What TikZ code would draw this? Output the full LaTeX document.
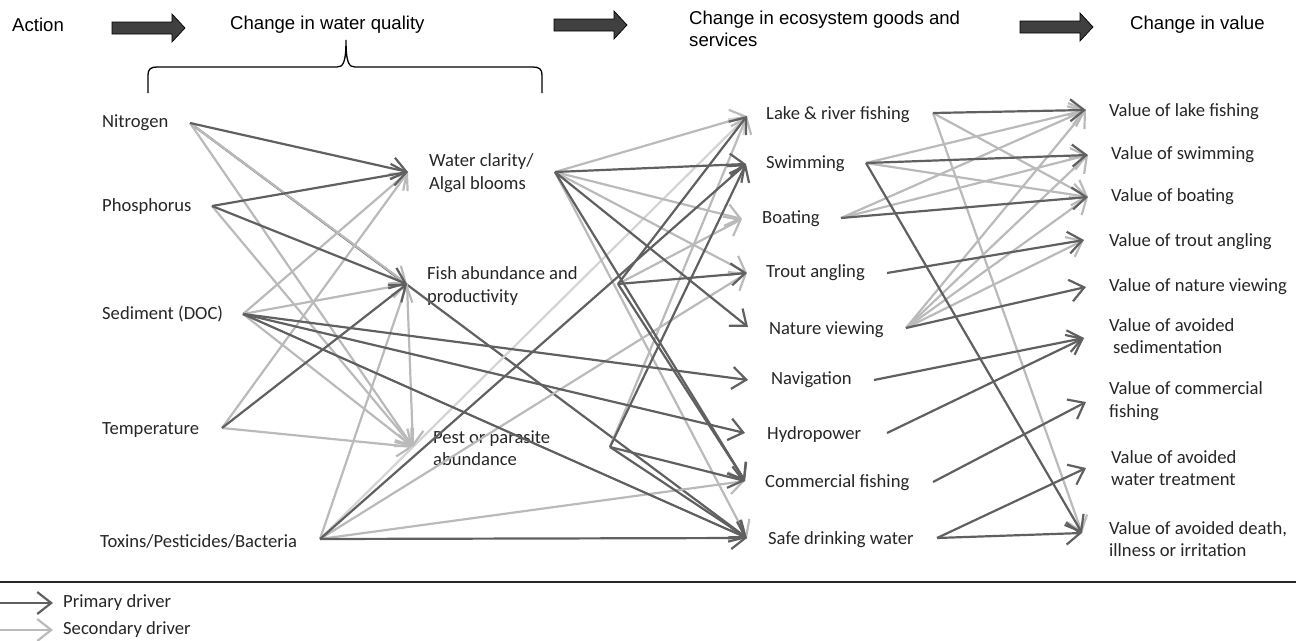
\documentclass[tikz,border=0pt]{standalone}
\usepackage{fontspec}
\setmainfont{Carlito}
\newfontfamily\hdrfont{Liberation Sans}
\usetikzlibrary{arrows.meta}
\definecolor{drk}{RGB}{96,96,96}
\definecolor{lgt}{RGB}{186,186,186}
\definecolor{lgtr}{RGB}{212,212,212}
\definecolor{blkfill}{RGB}{64,64,64}
\begin{document}
\begin{tikzpicture}[x=1pt,y=-1pt,
  lbl/.style={anchor=west, inner sep=0pt, font=\fontsize{18.6}{22.5}\selectfont, align=left, text=black!85},
  hdr/.style={anchor=west, inner sep=0pt, font=\hdrfont\fontsize{18.6}{22}\selectfont, align=left},
  pri/.style={draw=drk, line width=2.2pt, -{Straight Barb[length=14pt,width=22pt]}},
  sec/.style={pri, draw=lgt},
  sec2/.style={pri, draw=lgtr},
  brc/.style={draw=black, line width=1.3pt},
  blkarr/.pic={\draw[fill=blkfill, draw=black, line width=0.7pt] (0,-6) -- (60,-6) -- (60,-14) -- (73,0) -- (60,14) -- (60,6) -- (0,6) -- cycle;}
]
\useasboundingbox (0,0) rectangle (1296,640);

% header
\node[hdr] (hAction) at (12,25) {Action};
\pic at (112,28) {blkarr};
\node[hdr] (hWQ) at (230,25) {Change in water quality};
\pic at (554,25) {blkarr};
\node[hdr] (hES) at (689,29) {Change in ecosystem goods and\\services};
\pic at (1020,27) {blkarr};
\node[hdr] (hVal) at (1130,25) {Change in value};

% brace
\draw[brc] (148,93) -- (148,75) .. controls (148,69) and (151,67) .. (157,67) -- (337,67)
  .. controls (343,67) and (346,63) .. (346,40) .. controls (346,63) and (349,67) .. (355,67)
  -- (533,67) .. controls (539,67) and (542,69) .. (542,75) -- (542,93);

% labels: drivers
\node[lbl] (tN) at (102,123) {Nitrogen};
\node[lbl] (tP) at (102,207) {Phosphorus};
\node[lbl] (tS) at (102,314) {Sediment (DOC)};
\node[lbl] (tT) at (102,430) {Temperature};
\node[lbl] (tX) at (100,541) {Toxins/Pesticides/Bacteria};
% water quality
\node[lbl] (tWC) at (429,173) {Water clarity/\\Algal blooms};
\node[lbl] (tFA) at (427,286) {Fish abundance and\\productivity};
\node[lbl] (tPP) at (433,448) {Pest or parasite\\abundance};
% ecosystem services
\node[lbl] (tLF) at (766,115) {Lake \& river fishing};
\node[lbl] (tSW) at (766,164) {Swimming};
\node[lbl] (tBO) at (762,219) {Boating};
\node[lbl] (tTA) at (766,273) {Trout angling};
\node[lbl] (tNV) at (769,330) {Nature viewing};
\node[lbl] (tNA) at (771,380) {Navigation};
\node[lbl] (tHY) at (767,435) {Hydropower};
\node[lbl] (tCF) at (765,483) {Commercial fishing};
\node[lbl] (tSD) at (768,540) {Safe drinking water};
% values
\node[lbl] (vLF) at (1109,112) {Value of lake fishing};
\node[lbl] (vSW) at (1111,155) {Value of swimming};
\node[lbl] (vBO) at (1111,197) {Value of boating};
\node[lbl] (vTA) at (1109,242) {Value of trout angling};
\node[lbl] (vNV) at (1109,287) {Value of nature viewing};
\node[lbl] (vAS) at (1109,336) {Value of avoided\\\hspace*{4pt}sedimentation};
\node[lbl] (vCF) at (1109,401) {Value of commercial\\fishing};
\node[lbl] (vWT) at (1111,468) {Value of avoided\\water treatment};
\node[lbl] (vDI) at (1109,539) {Value of avoided death,\\illness or irritation};

% connection points
\coordinate (Nout) at (190,123);
\coordinate (Pout) at (212,206);
\coordinate (Sout) at (243,314);
\coordinate (Tout) at (222,428);
\coordinate (Xout) at (320,539);
\coordinate (WCin) at (408,172); \coordinate (WCout) at (555,172);
\coordinate (FAin) at (407,284); \coordinate (FAout) at (618,284);
\coordinate (PPin) at (413,447); \coordinate (PPout) at (610,447);
\coordinate (LFin) at (747,116); \coordinate (LFout) at (933,113);
\coordinate (SWin) at (746,164); \coordinate (SWout) at (866,163);
\coordinate (BOin) at (742,219); \coordinate (BOout) at (841,218);
\coordinate (TAin) at (747,273); \coordinate (TAout) at (887,273);
\coordinate (NVin) at (748,327); \coordinate (NVout) at (906,328);
\coordinate (NAin) at (748,380); \coordinate (NAout) at (874,380);
\coordinate (HYin) at (745,433); \coordinate (HYout) at (887,433);
\coordinate (CFin) at (745,481); \coordinate (CFout) at (933,482);
\coordinate (SDin) at (747,538); \coordinate (SDout) at (937,538);
\coordinate (VLF) at (1086,110);
\coordinate (VSW) at (1088,155);
\coordinate (VBO) at (1088,197);
\coordinate (VTA) at (1084,240);
\coordinate (VNV) at (1086,287);
\coordinate (VAS) at (1084,338);
\coordinate (VCF) at (1086,402);
\coordinate (VWT) at (1086,468);
\coordinate (VDI) at (1082,533);

% underlying primary line
\draw[pri] (Nout) -- (SDin);

% secondary drivers
\draw[sec] (Nout) -- (FAin);
\draw[sec] (Nout) -- (PPin);
\draw[sec] (Pout) -- (PPin);
\draw[sec] (Sout) -- (WCin);
\draw[sec] (Sout) -- (FAin);
\draw[sec] (Sout) -- (PPin);
\draw[sec] (Tout) -- (WCin);
\draw[sec] (Tout) -- (PPin);
\draw[sec] (Xout) -- (FAin);
\draw[sec2] (Xout) -- (LFin);
\draw[sec] (Xout) -- (TAin);
\draw[sec] (Xout) -- (CFin);
\draw[sec] (FAin) -- (PPin);
\draw[sec] (WCout) -- (LFin);
\draw[sec] (WCout) -- (BOin);
\draw[sec] (WCout) -- (TAin);
\draw[sec] (WCout) -- (SDin);
\draw[sec] (FAout) -- (BOin);
\draw[sec] (PPout) -- (LFin);
\draw[sec] (LFout) -- (VBO);
\draw[sec] (LFout) -- (VDI);
\draw[sec] (SWout) -- (VLF);
\draw[sec] (SWout) -- (VBO);
\draw[sec] (BOout) -- (VLF);
\draw[sec] (BOout) -- (VSW);
\draw[sec] (NVout) -- (VLF);
\draw[sec] (NVout) -- (VSW);
\draw[sec] (NVout) -- (VBO);
\draw[sec] (NVout) -- (VTA);

% primary drivers
\draw[pri] (Nout) -- (WCin);
\draw[pri] (Pout) -- (WCin);
\draw[pri] (Pout) -- (FAin);
\draw[pri] (Tout) -- (FAin);
\draw[pri] (Sout) -- (NAin);
\draw[pri] (Sout) -- (HYin);
\draw[pri] (Sout) -- (SDin);
\draw[pri] (Xout) -- (SWin);
\draw[pri] (Xout) -- (SDin);
\draw[pri] (WCout) -- (SWin);
\draw[pri] (WCout) -- (NVin);
\draw[pri] (WCout) -- (CFin);
\draw[pri] (FAout) -- (LFin);
\draw[pri] (FAout) -- (TAin);
\draw[pri] (FAout) -- (CFin);
\draw[pri] (PPout) -- (SWin);
\draw[pri] (PPout) -- (CFin);
\draw[pri] (PPout) -- (SDin);
\draw[pri] (LFout) -- (VLF);
\draw[pri] (SWout) -- (VSW);
\draw[pri] (SWout) -- (VDI);
\draw[pri] (BOout) -- (VBO);
\draw[pri] (TAout) -- (VTA);
\draw[pri] (NVout) -- (VNV);
\draw[pri] (NAout) -- (VAS);
\draw[pri] (HYout) -- (VAS);
\draw[pri] (CFout) -- (VCF);
\draw[pri] (SDout) -- (VWT);
\draw[pri] (SDout) -- (VDI);

% bottom rule and legend
\coordinate (ruleL) at (0,582);
\coordinate (ruleR) at (1296,582);
\draw[line width=1.8pt, black!85] (ruleL) -- (ruleR);
\coordinate (lgP0) at (0,603); \coordinate (lgP1) at (53,603);
\coordinate (lgS0) at (0,630); \coordinate (lgS1) at (53,630);
\draw[pri] (lgP0) -- (lgP1);
\draw[sec] (lgS0) -- (lgS1);
\node[lbl] (lgPt) at (63,603) {Primary driver};
\node[lbl] (lgSt) at (63,630) {Secondary driver};
\end{tikzpicture}
\end{document}
